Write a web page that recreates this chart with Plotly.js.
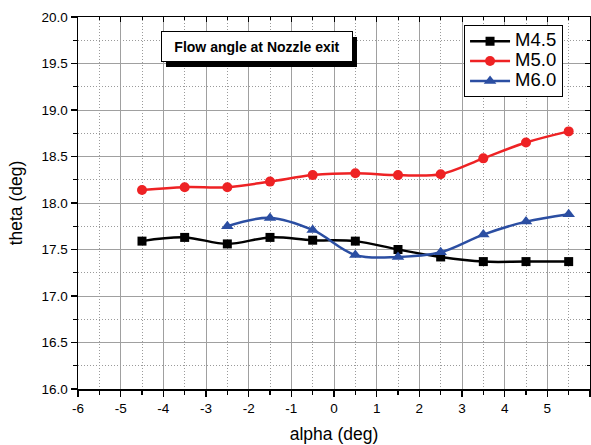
<!DOCTYPE html>
<html>
<head>
<meta charset="utf-8">
<script src="https://cdn.plot.ly/plotly-3.0.1.min.js"></script>
<style>html,body{margin:0;padding:0;background:#fff;}#chart{width:591px;height:445px;}</style>
</head>
<body>
<div id="chart"></div>
<script>
// Data
const alphaM45 = [-4.5, -3.5, -2.5, -1.5, -0.5, 0.5, 1.5, 2.5, 3.5, 4.5, 5.5];
const thetaM45 = [17.59, 17.63, 17.56, 17.63, 17.60, 17.59, 17.50, 17.42, 17.37, 17.37, 17.37];
const alphaM50 = [-4.5, -3.5, -2.5, -1.5, -0.5, 0.5, 1.5, 2.5, 3.5, 4.5, 5.5];
const thetaM50 = [18.14, 18.17, 18.17, 18.23, 18.30, 18.32, 18.30, 18.31, 18.48, 18.65, 18.77];
const alphaM60 = [-2.5, -1.5, -0.5, 0.5, 1.5, 2.5, 3.5, 4.5, 5.5];
const thetaM60 = [17.75, 17.84, 17.71, 17.44, 17.42, 17.47, 17.66, 17.80, 17.88];
const seriesNames = ["M4.5", "M5.0", "M6.0"];
const xTickVals = [-6, -5, -4, -3, -2, -1, 0, 1, 2, 3, 4, 5, 6];
const xTickText = ["-6", "-5", "-4", "-3", "-2", "-1", "0", "1", "2", "3", "4", "5", "6"];
const xMinorVals = [-5.5, -4.5, -3.5, -2.5, -1.5, -0.5, 0.5, 1.5, 2.5, 3.5, 4.5, 5.5];
const chartTitle = "Flow angle at Nozzle exit";
const xTitle = "alpha (deg)";
const yTitle = "theta (deg)";

const FONT = "Liberation Sans, Arial, sans-serif";
const legName = n => '<span style="font-size:18.5px">' + n + '</span>';
const traces = [
  {x: alphaM45, y: thetaM45, name: legName(seriesNames[0]), mode: "lines+markers",
   line: {color: "#000000", width: 2.5, shape: "spline", smoothing: 1},
   marker: {symbol: "square", size: 9, color: "#000000"}},
  {x: alphaM50, y: thetaM50, name: legName(seriesNames[1]), mode: "lines+markers",
   line: {color: "#ee2224", width: 2.5, shape: "spline", smoothing: 1},
   marker: {symbol: "circle", size: 10, color: "#ee2224"}},
  {x: alphaM60, y: thetaM60, name: legName(seriesNames[2]), mode: "lines+markers",
   line: {color: "#2b4ea2", width: 2.5, shape: "spline", smoothing: 1},
   marker: {symbol: "triangle-up", size: 11, color: "#2b4ea2"}},
  {x: [0], y: [18], xaxis: "x2", yaxis: "y2", mode: "markers", showlegend: false,
   hoverinfo: "skip", marker: {opacity: 0}}
];

const axBase = {
  showline: true, linecolor: "#000", linewidth: 1.5, mirror: true,
  ticks: "outside", ticklen: 6, tickwidth: 1.3, tickcolor: "#000",
  showgrid: true, gridcolor: "#a0a0a0", gridwidth: 1, zeroline: false,
  tickfont: {family: FONT, size: 13.5, color: "#000"}
};
const minorBase = {ticks: "outside", ticklen: 4, tickwidth: 1.2, tickcolor: "#000",
  showgrid: true, gridcolor: "#9a9a9a", griddash: "1px,2px", gridwidth: 1};

const layout = {
  width: 591, height: 445,
  margin: {l: 78, r: 1, t: 17, b: 56},
  paper_bgcolor: "#fff", plot_bgcolor: "#fff",
  font: {family: FONT, color: "#000"},
  xaxis: Object.assign({}, axBase, {
    range: [-6, 6], tickmode: "array", tickvals: xTickVals, ticktext: xTickText,
    title: {text: xTitle, font: {family: FONT, size: 17.5}, standoff: 13},
    minor: Object.assign({tickmode: "array", tickvals: xMinorVals}, minorBase)
  }),
  yaxis: Object.assign({}, axBase, {
    range: [16, 20], dtick: 0.5, tick0: 16, tickformat: ".1f",
    title: {text: yTitle, font: {family: FONT, size: 17.5}, standoff: 14},
    minor: Object.assign({dtick: 0.25, tick0: 0}, minorBase)
  }),
  xaxis2: {overlaying: "x", side: "top", anchor: "y2", range: [-6, 6], dtick: 1,
    ticks: "inside", ticklen: 5, tickcolor: "#000", showticklabels: false, showgrid: false, zeroline: false,
    minor: {dtick: 0.5, ticks: "inside", ticklen: 3, tickcolor: "#000"}},
  yaxis2: {overlaying: "y", side: "right", anchor: "x2", range: [16, 20], dtick: 0.5,
    ticks: "inside", ticklen: 5, tickcolor: "#000", showticklabels: false, showgrid: false, zeroline: false,
    minor: {dtick: 0.25, ticks: "inside", ticklen: 3, tickcolor: "#000"}},
  showlegend: true,
  legend: {x: 0.754, y: 0.978, xanchor: "left", yanchor: "top",
    bgcolor: "#fff", bordercolor: "#000", borderwidth: 1,
    font: {family: FONT, size: 13, color: "#000"}, tracegroupgap: 0, itemwidth: 40},
  shapes: [
    {type: "rect", xref: "paper", yref: "paper", x0: 0.1719, x1: 0.5449, y0: 0.8656, y1: 0.9462,
     fillcolor: "#000", line: {width: 0}, layer: "above"}
  ],
  annotations: [
    {text: "<b>" + chartTitle + "</b>", xref: "paper", yref: "paper",
     x: 0.1621, y: 0.9624, xanchor: "left", yanchor: "top", showarrow: false,
     width: 188, height: 27, bgcolor: "#fff", bordercolor: "#000", borderwidth: 1,
     font: {family: FONT, size: 14, color: "#000"}}
  ]
};

Plotly.newPlot("chart", traces, layout, {displayModeBar: false, staticPlot: true});
</script>
</body>
</html>
